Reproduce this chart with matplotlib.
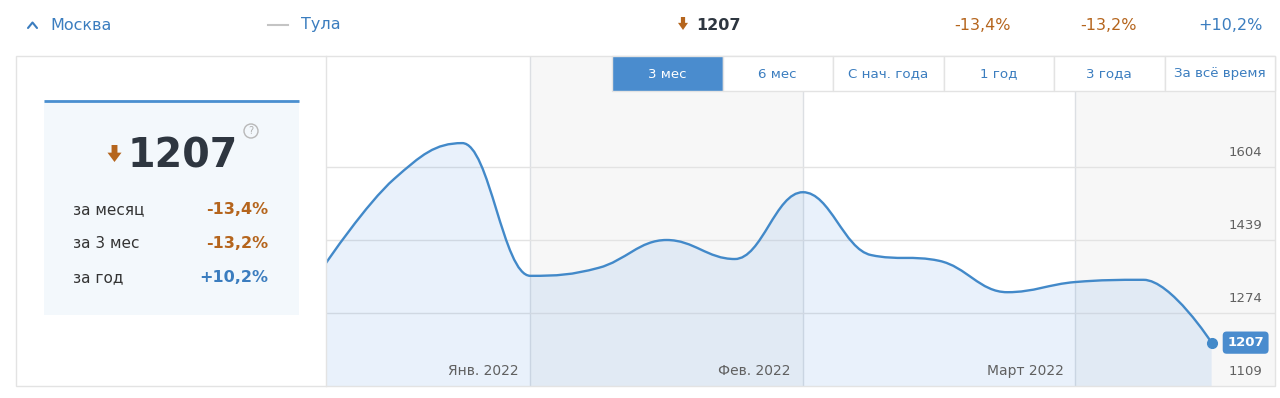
import matplotlib
matplotlib.use("Agg")
import matplotlib.pyplot as plt
from matplotlib.path import Path
from matplotlib.patches import PathPatch, Rectangle, Polygon, Circle

# ── data ──
prices = [1387, 1577, 1658, 1358, 1376, 1439, 1396, 1547, 1405, 1392, 1321, 1344, 1349, 1207]
y_ticks = [1109, 1274, 1439, 1604]
month_starts = [3, 7, 11]
month_labels = ["Янв. 2022", "Фев. 2022", "Март 2022"]

last_value = "1207"
change_labels = ["за месяц", "за 3 мес", "за год"]
change_values = ["-13,4%", "-13,2%", "+10,2%"]
change_up = [False, False, True]
periods = ["3 мес", "6 мес", "С нач. года", "1 год", "3 года", "За всё время"]
regions = ["Москва", "Тула"]

# ── colours ──
BLUE_TEXT = "#3b7dbf"
BROWN = "#b5651d"
DARK = "#2e3640"
GRAY_TEXT = "#606060"
LINE = "#4289c9"
BORDER = "#e3e3e3"
BAND = "#f7f7f7"
PANEL = "#f3f8fc"
ACTIVE = "#4a8cce"

W, H = 1280, 398


def spline_path(xs, ys):
    """Highcharts-like spline (smoothing 1.5) as cubic bezier path."""
    n = len(xs)
    lc = [(x, y) for x, y in zip(xs, ys)]
    rc = [(x, y) for x, y in zip(xs, ys)]
    s, d = 1.5, 2.5
    for i in range(1, n - 1):
        px, py = xs[i], ys[i]
        lx, ly = xs[i - 1], ys[i - 1]
        nx, ny = xs[i + 1], ys[i + 1]
        lcx, lcy = (s * px + lx) / d, (s * py + ly) / d
        rcx, rcy = (s * px + nx) / d, (s * py + ny) / d
        corr = 0
        if rcx != lcx:
            corr = (rcy - lcy) * (rcx - px) / (rcx - lcx) + py - rcy
        lcy += corr
        rcy += corr
        # no false extremes
        if lcy > ly and lcy > py:
            lcy = max(ly, py); rcy = 2 * py - lcy
        elif lcy < ly and lcy < py:
            lcy = min(ly, py); rcy = 2 * py - lcy
        if rcy > ny and rcy > py:
            rcy = max(ny, py); lcy = 2 * py - rcy
        elif rcy < ny and rcy < py:
            rcy = min(ny, py); lcy = 2 * py - rcy
        lc[i] = (lcx, lcy)
        rc[i] = (rcx, rcy)
    verts = [(xs[0], ys[0])]
    codes = [Path.MOVETO]
    for i in range(1, n):
        verts += [rc[i - 1], lc[i], (xs[i], ys[i])]
        codes += [Path.CURVE4] * 3
    return verts, codes


fig = plt.figure(figsize=(W / 100, H / 100), dpi=100)
fig.patch.set_facecolor("white")

# ── chart axes (pixel box 326..1275 x 56..386) ──
ax = fig.add_axes([326 / W, (H - 386) / H, (1275 - 326) / W, (386 - 56) / H])
ax.set_facecolor("white")
xs = list(range(len(prices)))
x_right = 13.93
ax.set_xlim(0, x_right)
ax.set_ylim(y_ticks[0], y_ticks[0] + (y_ticks[1] - y_ticks[0]) * 330 / 73)
for a in ax.spines.values():
    a.set_visible(False)
ax.set_xticks([])
ax.set_yticks([])

# alternating month bands
ax.axvspan(month_starts[0], month_starts[1], color=BAND, lw=0, zorder=0)
ax.axvspan(month_starts[2], x_right, color=BAND, lw=0, zorder=0)
for m in month_starts:
    ax.axvline(m, color="#dcdfe3", lw=1, zorder=1)
for t in y_ticks[1:]:
    ax.axhline(t, color=BORDER, lw=1, zorder=1)

verts, codes = spline_path(xs, prices)
fill_verts = verts + [(xs[-1], y_ticks[0]), (xs[0], y_ticks[0]), verts[0]]
fill_codes = codes + [Path.LINETO, Path.LINETO, Path.CLOSEPOLY]
ax.add_patch(PathPatch(Path(fill_verts, fill_codes), facecolor=(74 / 255, 144 / 255, 226 / 255, 0.12),
                       edgecolor="none", zorder=2))
ax.add_patch(PathPatch(Path(verts, codes), facecolor="none", edgecolor=LINE, lw=1.7, zorder=3,
                       capstyle="round", joinstyle="round"))
ax.plot(xs[-1], prices[-1], "o", color=LINE, ms=7, zorder=4)

# y labels above grid lines
for t in y_ticks:
    ax.annotate(str(t), xy=(x_right, t), xytext=(-13, 8), textcoords="offset pixels",
                ha="right", va="bottom", fontsize=9.5, color=GRAY_TEXT, zorder=5)
# month labels
for m, lab in zip(month_starts, month_labels):
    ax.annotate(lab, xy=(m, y_ticks[0]), xytext=(-12, 8), textcoords="offset pixels",
                ha="right", va="bottom", fontsize=10, color=GRAY_TEXT, zorder=5)
# last value badge
ax.annotate(str(prices[-1]), xy=(xs[-1], prices[-1]), xytext=(34, 0), textcoords="offset pixels",
            ha="center", va="center", fontsize=9.5, fontweight="bold", color="white", zorder=6,
            bbox=dict(boxstyle="round,pad=0.35,rounding_size=0.3", fc=ACTIVE, ec="none"),
            annotation_clip=False)

# ── overlay in pixel coordinates ──
ui = fig.add_axes([0, 0, 1, 1], zorder=5)
ui.set_xlim(0, W)
ui.set_ylim(H, 0)
ui.axis("off")
ui.patch.set_alpha(0)


def down_arrow(cx, top, w, h, color=BROWN):
    sw = w * 0.42
    sh = h * 0.45
    pts = [(cx - sw / 2, top), (cx + sw / 2, top), (cx + sw / 2, top + sh), (cx + w / 2, top + sh),
           (cx, top + h), (cx - w / 2, top + sh), (cx - sw / 2, top + sh)]
    ui.add_patch(Polygon(pts, closed=True, fc=color, ec="none"))


# header row
ui.plot([28, 32.5, 37], [28, 22.5, 28], color=BLUE_TEXT, lw=1.5, solid_capstyle="round")
ui.text(50, 25, regions[0], fontsize=11.5, color=BLUE_TEXT, va="center", ha="left")
ui.plot([268, 288], [25, 25], color="#c4c4c4", lw=1.5)
ui.text(301, 25, regions[1], fontsize=11.5, color=BLUE_TEXT, va="center", ha="left")
down_arrow(683, 17, 10, 13)
ui.text(696, 25, last_value, fontsize=11.5, fontweight="bold", color=DARK, va="center", ha="left")
for xr, val, up in zip([1011, 1137, 1263], change_values, change_up):
    ui.text(xr, 25, val, fontsize=11.5, color=BLUE_TEXT if up else BROWN, va="center", ha="right")

# outer frame
ui.add_patch(Rectangle((16, 56), 1275 - 16, 386 - 56, fc="none", ec=BORDER, lw=1))
ui.plot([326, 326], [56, 386], color=BORDER, lw=1)

# period buttons
bx = [612 + i * (1275 - 612) / len(periods) for i in range(len(periods) + 1)]
for i, lab in enumerate(periods):
    active = i == 0
    ui.add_patch(Rectangle((bx[i], 56), bx[i + 1] - bx[i], 35, fc=ACTIVE if active else "white",
                           ec=BORDER, lw=1))
    ui.text((bx[i] + bx[i + 1]) / 2, 74, lab, fontsize=9.6, color="white" if active else BLUE_TEXT,
            ha="center", va="center")

# left summary panel
ui.add_patch(Rectangle((44, 100), 299 - 44, 315 - 100, fc=PANEL, ec="none"))
ui.plot([44, 299], [100.5, 100.5], color="#4a8fd0", lw=2, solid_capstyle="butt")
down_arrow(114.5, 145, 14, 17)
ui.text(128, 156, last_value, fontsize=28.5, fontweight="bold", color=DARK, ha="left", va="center")
ui.add_patch(Circle((251, 131), 7, fc="none", ec="#b8b8b8", lw=1))
ui.text(251, 131.5, "?", fontsize=7, color="#b0b0b0", ha="center", va="center")
for k, (lab, val, up) in enumerate(zip(change_labels, change_values, change_up)):
    y = 210 + 34 * k
    ui.text(73, y, lab, fontsize=11, color="#333333", ha="left", va="center")
    ui.text(268, y, val, fontsize=11.5, fontweight="bold", color=BLUE_TEXT if up else BROWN,
            ha="right", va="center")

fig.savefig("out.png", dpi=100)
